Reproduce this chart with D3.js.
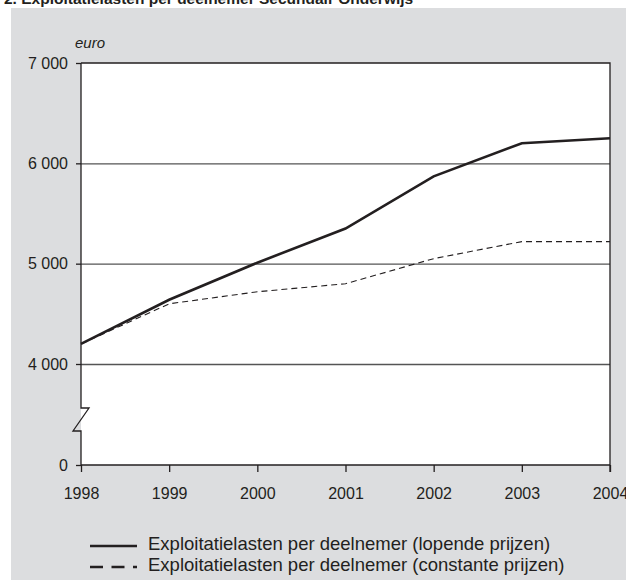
<!DOCTYPE html>
<html>
<head>
<meta charset="utf-8">
<script src="https://cdn.jsdelivr.net/npm/d3@7"></script>
<style>
  body { margin: 0; background: #fff; }
  text { font-family: "Liberation Sans", Arial, sans-serif; fill: #231f20; }
</style>
</head>
<body>
<svg id="chart"></svg>
<script>
// data
var years = [1998, 1999, 2000, 2001, 2002, 2003, 2004];
var lopende = [4200, 4640, 5010, 5350, 5870, 6200, 6250];
var constante = [4200, 4600, 4720, 4800, 5050, 5220, 5220];
var yTicks = [0, 4000, 5000, 6000, 7000];
var legendLabels = [
    "Exploitatielasten per deelnemer (lopende prijzen)",
    "Exploitatielasten per deelnemer (constante prijzen)"
];
var title = "2. Exploitatielasten per deelnemer Secundair Onderwijs";

var W = 626, H = 583;
var svg = d3.select('#chart').attr("width", W).attr("height", H);

// grey panel
svg.append("rect").attr("x", 11).attr("y", 8).attr("width", W - 11).attr("height", 572)
    .attr("fill", "#dcdddf");

svg.append("text").text(title)
    .attr("x", 4).attr("y", 4)
    .attr("font-weight", "bold").attr("font-size", "15.5px");

var margin = { top: 63, left: 81, right: 16, bottom: 118 };
var width = W - margin.left - margin.right;
var height = H - margin.top - margin.bottom;

var xScale = d3.scaleLinear().domain([1998, 2004]).range([0, width]);
// broken axis: 0 sits one step below 4000
var yScale = d3.scaleLinear().domain([0, 4000, 7000]).range([height, height - 101, 0]);

var g = svg.append("g").attr("transform", "translate(" + margin.left + "," + margin.top + ")");

g.append("rect").attr("width", width).attr("height", height).attr("fill", "#fff");

// horizontal grid lines
g.append("g")
    .attr("class", "grid")
    .call(d3.axisLeft(yScale).tickValues([4000, 5000, 6000]).tickSize(-width).tickFormat(""))
    .call(function (s) {
        s.select(".domain").remove();
        s.selectAll("line").attr("stroke", "#555").attr("stroke-width", 1.3);
    });

// lines
var line = d3.line()
    .x(function (d, i) { return xScale(years[i]); })
    .y(function (d) { return yScale(d); });

g.append("path").datum(constante)
    .attr("d", line).attr("fill", "none")
    .attr("stroke", "#231f20").attr("stroke-width", 1.1)
    .attr("stroke-dasharray", "6,4");

g.append("path").datum(lopende)
    .attr("d", line).attr("fill", "none")
    .attr("stroke", "#231f20").attr("stroke-width", 2.6);

// frame: top and right
g.append("path")
    .attr("d", "M0,0H" + width + "V" + (height + 7))
    .attr("fill", "none").attr("stroke", "#231f20").attr("stroke-width", 1.3);

// x axis
var xAxis = g.append("g")
    .attr("transform", "translate(0," + height + ")")
    .call(d3.axisBottom(xScale).tickValues(years).tickFormat(d3.format("d")).tickSize(7).tickPadding(16));
xAxis.select(".domain").attr("stroke", "#231f20").attr("stroke-width", 1.3).attr("d", "M0,0H" + width);
xAxis.selectAll("line").attr("stroke", "#231f20").attr("stroke-width", 1.3);
xAxis.selectAll("text").attr("font-size", "16px").attr("font-family", "Liberation Sans, Arial, sans-serif").attr("fill", "#231f20");

// y axis
var yAxis = g.append("g")
    .call(d3.axisLeft(yScale).tickValues(yTicks).tickSize(5).tickPadding(8)
        .tickFormat(function (d) { return d3.format(",")(d).replace(",", " "); }));
yAxis.select(".domain").remove();
yAxis.selectAll("line").attr("stroke", "#231f20").attr("stroke-width", 1.3);
yAxis.selectAll("text").attr("font-size", "16px").attr("font-family", "Liberation Sans, Arial, sans-serif").attr("fill", "#231f20");

// y axis line with break symbol
var yb1 = yScale(4000) + 44, yb2 = yScale(4000) + 67;
g.append("path")
    .attr("d", "M0,0V" + yb1 + "H8L-8," + yb2 + "H0V" + height)
    .attr("fill", "none").attr("stroke", "#231f20").attr("stroke-width", 1.3);

g.append("text").text("euro")
    .attr("x", -6).attr("y", -15)
    .attr("font-style", "italic").attr("font-size", "15px");

// legend
var legend = svg.append("g").attr("transform", "translate(90,550)");
var items = legend.selectAll("g").data(legendLabels).enter().append("g")
    .attr("transform", function (d, i) { return "translate(0," + (i * 21) + ")"; });
items.append("line")
    .attr("x1", 0).attr("x2", 47).attr("y1", -4).attr("y2", -4)
    .attr("stroke", "#231f20").attr("stroke-width", 2.6)
    .attr("stroke-dasharray", function (d, i) { return i === 1 ? "13,8.5" : null; });
items.append("text").text(function (d) { return d; })
    .attr("x", 58).attr("y", 0)
    .attr("font-size", "18.5px");
</script>
</body>
</html>
